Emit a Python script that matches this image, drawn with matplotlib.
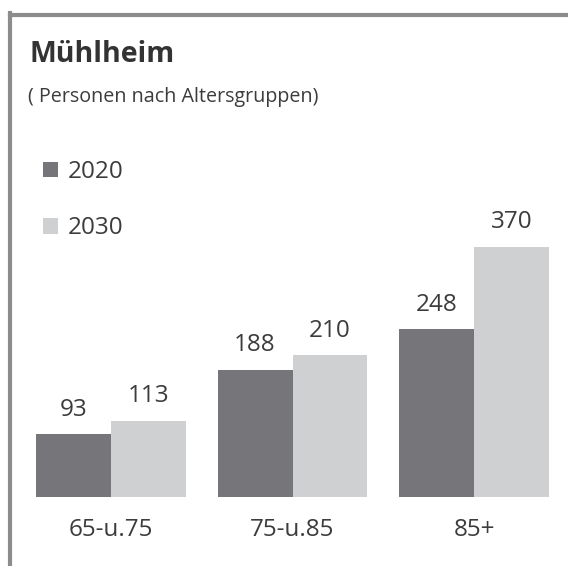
import matplotlib.pyplot as plt
import numpy as np
from matplotlib.lines import Line2D

plt.rcParams['font.family'] = ['Open Sans', 'DejaVu Sans']

categories = ["65-u.75", "75-u.85", "85+"]
years = ["2020", "2030"]
values_2020 = [93, 188, 248]
values_2030 = [113, 210, 370]

dark = "#76767a"
light = "#cfd0d2"
text_col = "#3c3c3c"
fs = 17.5

fig = plt.figure(figsize=(5.68, 5.66), dpi=100)
ax = fig.add_axes([0, 69 / 566, 1, 347 / 566])

x = np.arange(len(categories))
w = 0.413
b1 = ax.bar(x - w / 2, values_2020, w, color=dark, label=years[0])
b2 = ax.bar(x + w / 2, values_2030, w, color=light, label=years[1])

ax.bar_label(b1, padding=9, fontsize=fs, color=text_col)
ax.bar_label(b2, padding=9, fontsize=fs, color=text_col)

ax.set_xlim(-111 / 181.5, (568 - 111) / 181.5)
ax.set_ylim(0, 347 / 0.6757)
ax.set_xticks(x)
ax.set_xticklabels(categories, fontsize=fs, color=text_col)
ax.tick_params(axis="x", length=0, pad=15)
ax.set_yticks([])
for s in ax.spines.values():
    s.set_visible(False)
ax.patch.set_alpha(0)

fig.text(29 / 568, 1 - 62 / 566, "Mühlheim", fontsize=20.5, fontweight="bold",
         color="#333333", va="baseline")
fig.text(28 / 568, 1 - 102 / 566, "( Personen nach Altersgruppen)", fontsize=14.2,
         color=text_col, va="baseline")

fig.legend(handles=[b1, b2], loc="upper left", bbox_to_anchor=(43 / 568, 1 - 160 / 566),
           frameon=False, fontsize=fs, labelcolor=text_col, handlelength=0.62,
           handleheight=0.62, handletextpad=0.4, labelspacing=1.33, borderpad=0,
           borderaxespad=0)

# grey frame at top and left
fig.add_artist(Line2D([9.5 / 568, 1], [1 - 14.5 / 566, 1 - 14.5 / 566],
                      transform=fig.transFigure, color="#8c8c8c", lw=3))
fig.add_artist(Line2D([9.5 / 568, 9.5 / 568], [0, 1 - 13 / 566],
                      transform=fig.transFigure, color="#8c8c8c", lw=3))

fig.savefig("out.png", dpi=100)
